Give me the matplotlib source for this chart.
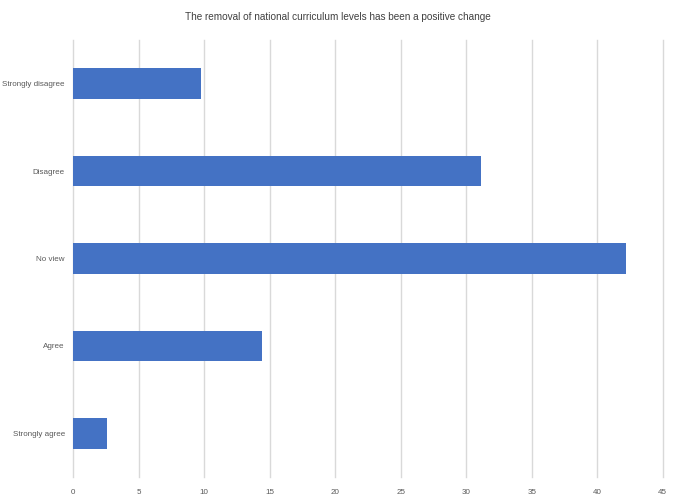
import matplotlib
matplotlib.use("Agg")
import matplotlib.pyplot as plt

categories = ["Strongly disagree", "Disagree", "No view", "Agree", "Strongly agree"]
values = [9.75, 31.1, 42.2, 14.4, 2.6]
xticks = [0, 5, 10, 15, 20, 25, 30, 35, 40, 45]

plt.rcParams['font.family'] = ['Liberation Sans', 'DejaVu Sans']

fig = plt.figure(figsize=(6.76, 5.03), dpi=100)
ax = fig.add_axes([0.1084, 0.0517, 0.872, 0.8688])

ypos = list(range(len(categories)))
ax.barh(ypos, values, height=0.35, color='#4472C4', zorder=3)
ax.set_ylim(len(categories) - 0.5, -0.5)
ax.set_xlim(0, 45)
ax.set_xticks(xticks)
ax.set_yticks(ypos)
ax.set_yticklabels(categories)

# light vertical gridlines, no axis lines
ax.grid(axis='x', color='#d9d9d9', linewidth=1, zorder=0)
for gl in ax.get_xgridlines():
    gl.set_clip_on(False)
for s in ax.spines.values():
    s.set_visible(False)
ax.tick_params(length=0, labelsize=5.8, colors='#595959', pad=6)
ax.tick_params(axis='x', pad=9)

fig.suptitle("The removal of national curriculum levels has been a positive change",
             y=0.976, fontsize=7.2, color='#404040')

fig.savefig("out.png", dpi=100)
